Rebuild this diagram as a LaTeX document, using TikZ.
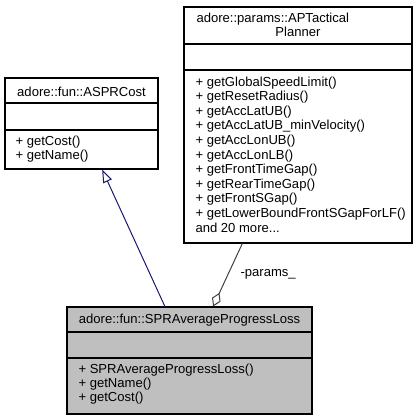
\documentclass[tikz,border=0pt]{standalone}
\usepackage{fontspec}
\setmainfont{Liberation Sans}
\usepackage{xcolor}
\usetikzlibrary{arrows.meta,fit,calc,positioning}

\definecolor{inhblue}{RGB}{25,25,112}
\definecolor{aggrgray}{RGB}{64,64,64}
\definecolor{curgray}{RGB}{191,191,191}

\begin{document}
\begin{tikzpicture}[x=0.75pt,y=-0.75pt,line width=0.8pt,
font=\fontsize{9.8}{10.5}\selectfont]

\tikzstyle{every class}=[draw=black,fill=white,inner sep=0pt,line width=0.8pt]
\tikzstyle{member}=[inner sep=0pt,anchor=base west,align=left]
\tikzstyle{title}=[inner sep=0pt,anchor=base]

\useasboundingbox (0,0) rectangle (418,419);

%base class
\node[every class,fit={(5,78) (158,169)}]
(cost)
{};
\draw (5,103) -- (158,103);
\draw (5,130) -- (158,130);
\node[title]
(costname) at (81.5,96)
{adore::fun::ASPRCost};
% anchored at the baseline of the last line
\node[member]
(costops) at (15,159)
{+ getCost()\\+ getName()};

%parameter class
\node[every class,fit={(184,7) (412,243)}]
(plan)
{};
\draw (184,44) -- (412,44);
\draw (184,70) -- (412,70);
\node[title,anchor=base west]
(planname) at (196,22)
{adore::params::APTactical};
\node[title]
(planname2) at (298,36)
{Planner};
\node[member,font=\fontsize{9.8}{10.95}\selectfont]
(planops) at (195,232)
{+ getGlobalSpeedLimit()\\+ getResetRadius()\\+ getAccLatUB()\\
+ getAccLatUB\_minVelocity()\\+ getAccLonUB()\\+ getAccLonLB()\\
+ getFrontTimeGap()\\+ getRearTimeGap()\\+ getFrontSGap()\\
+ getLowerBoundFrontSGapForLF()\\and 20 more...};

%current class
\node[every class,fill=curgray,fit={(67,307) (312,414)}]
(spr)
{};
\draw (67,332) -- (312,332);
\draw (67,358) -- (312,358);
\node[title]
(sprname) at (189.5,323)
{adore::fun::SPRAverageProgressLoss};
\node[member]
(sprops) at (78,401)
{+ SPRAverageProgressLoss()\\+ getName()\\+ getCost()};

\draw[inhblue,line width=0.75pt,-{Triangle[open,length=9.75pt,width=7pt]}]
($(spr.north west)!0.4!(spr.north east)$) -- ($(cost.south west)!0.634!(cost.south east)$);

\draw[aggrgray,line width=0.75pt,{Diamond[open,length=11.25pt,width=7pt]}-]
($(spr.north west)!0.596!(spr.north east)$) -- ($(plan.south west)!0.257!(plan.south east)$);
\node[member]
(params) at (240,276)
{-params\_};

\end{tikzpicture}
\end{document}
